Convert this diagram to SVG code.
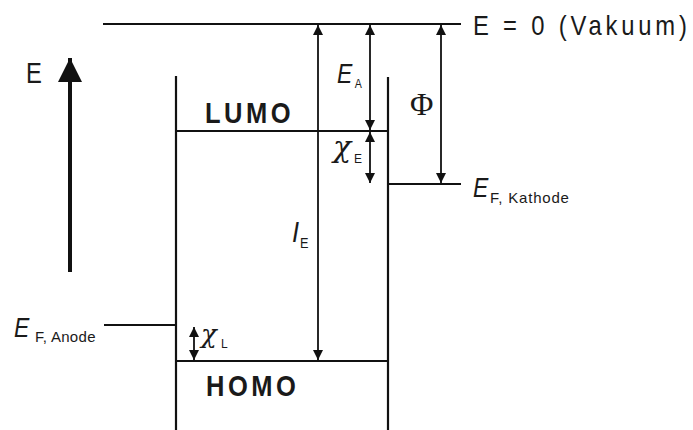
<svg xmlns="http://www.w3.org/2000/svg" width="693" height="430" viewBox="0 0 693 430">
<defs>
<marker id="ah" viewBox="0 0 10 10" refX="10" refY="5" markerWidth="10" markerHeight="10" markerUnits="userSpaceOnUse" orient="auto-start-reverse">
<path d="M0,0 L10,5 L0,10 z" fill="#111"/>
</marker>
<marker id="big" viewBox="0 0 10 10" refX="10" refY="5" markerWidth="7" markerHeight="6" orient="auto">
<path d="M0,0 L10,5 L0,10 z" fill="#111"/>
</marker>
</defs>
<style>
.ln{stroke:#111;stroke-width:2.2;fill:none}
.ar{stroke:#111;stroke-width:1.8;fill:none}
.t{font-family:"Liberation Sans",Arial,sans-serif;fill:#1a1a1a}
.it{font-style:italic}
.b{font-weight:bold}
.g{font-family:"Liberation Serif","Times New Roman",serif;fill:#1a1a1a}
.chi{font-family:"DejaVu Serif",serif;font-style:italic;fill:#1a1a1a}
</style>
<rect width="693" height="430" fill="#fff"/>
<g id="levels">
<line id="vacuum" class="ln" x1="103" y1="24" x2="461" y2="24"/>
<line id="left-wall" class="ln" x1="176" y1="76" x2="176" y2="430"/>
<line id="right-wall" class="ln" x1="388" y1="77" x2="388" y2="430"/>
<line id="lumo" class="ln" x1="176" y1="131" x2="388" y2="131"/>
<line id="homo" class="ln" x1="176" y1="361" x2="388" y2="361"/>
<line id="kathode" class="ln" x1="388" y1="184" x2="461" y2="184"/>
<line id="anode" class="ln" x1="104" y1="325" x2="176" y2="325"/>
</g>
<g id="connectors">
<line x1="70" y1="272" x2="70" y2="58" stroke="#111" stroke-width="4" marker-end="url(#big)"/>
<line class="ar" x1="318" y1="25" x2="318" y2="360" marker-start="url(#ah)" marker-end="url(#ah)"/>
<line class="ar" x1="370" y1="25" x2="370" y2="130" marker-start="url(#ah)" marker-end="url(#ah)"/>
<line class="ar" x1="370" y1="132" x2="370" y2="183" marker-start="url(#ah)" marker-end="url(#ah)"/>
<line class="ar" x1="441" y1="25" x2="441" y2="183" marker-start="url(#ah)" marker-end="url(#ah)"/>
<line class="ar" x1="194" y1="327" x2="194" y2="360" marker-start="url(#ah)" marker-end="url(#ah)"/>
</g>
<g id="labels">
<text class="t" transform="translate(26,83) scale(0.82,1)" font-size="29">E</text>
<text class="t" transform="translate(473,35) scale(0.85,1)" font-size="28" letter-spacing="4.5">E = 0 (Vakuum)</text>
<text class="t b" transform="translate(205,123) scale(0.88,1)" font-size="29" letter-spacing="4">LUMO</text>
<text class="t b" transform="translate(206,396) scale(0.88,1)" font-size="29" letter-spacing="4">HOMO</text>
<text class="t" transform="translate(337,83) scale(0.82,1)"><tspan class="it" font-size="28">E</tspan><tspan font-size="13" dx="3" dy="5">A</tspan></text>
<text class="g" x="410" y="115" font-size="32">Φ</text>
<text class="chi" x="333" y="157" font-size="30">χ</text>
<text class="t" x="354" y="163" font-size="12">E</text>
<text class="t" transform="translate(292,242) scale(0.85,1)"><tspan class="it" font-size="30">I</tspan><tspan font-size="15" dx="1" dy="6">E</tspan></text>
<text class="t" transform="translate(473,197) scale(0.82,1)"><tspan class="it" font-size="28">E</tspan></text>
<text class="t" x="490" y="203" font-size="15" letter-spacing="0.8">F, Kathode</text>
<text class="t" transform="translate(14,337) scale(0.82,1)"><tspan class="it" font-size="28">E</tspan></text>
<text class="t" x="35" y="342" font-size="15" letter-spacing="0.3">F, Anode</text>
<text class="chi" x="201" y="343" font-size="26">χ</text>
<text class="t" x="221" y="348" font-size="12">L</text>
</g>
</svg>
